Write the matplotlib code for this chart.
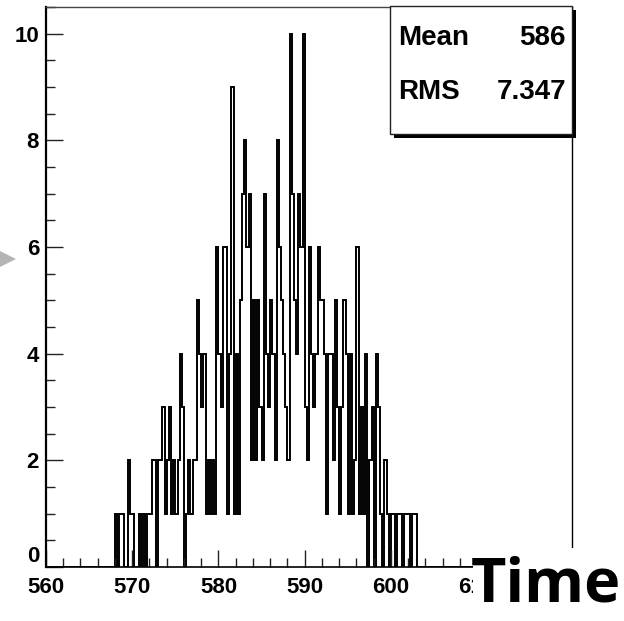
import numpy as np
import matplotlib
matplotlib.use("Agg")
import matplotlib.pyplot as plt
from matplotlib.patches import Rectangle, Polygon
from matplotlib.ticker import MultipleLocator

# ---------------- data ----------------
bin_width = 0.25
first_edge = 568.0
x_range = (560.0, 621.0)
y_max = 10.5
counts = [
    1, 0, 1, 1,   0, 0, 2, 1,   1, 0, 0, 1,   0, 1, 0, 1,      # 568-572
    1, 2, 2, 0,   2, 2, 3, 1,   2, 3, 1, 2,   1, 2, 4, 3,      # 572-576
    0, 1, 2, 1,   2, 2, 5, 4,   3, 4, 1, 2,   1, 2, 1, 6,      # 576-580
    4, 3, 6, 6,   1, 4, 9, 1,   4, 1, 5, 7,   8, 6, 7, 2,      # 580-584
    5, 2, 5, 3,   2, 7, 4, 3,   5, 4, 2, 8,   6, 5, 4, 3,      # 584-588
    2, 10, 7, 5,  4, 7, 6, 10,  3, 2, 6, 4,   3, 4, 6, 5,      # 588-592
    5, 4, 1, 4,   4, 2, 5, 3,   1, 3, 5, 4,   1, 4, 1, 2,      # 592-596
    6, 1, 3, 1,   4, 0, 2, 3,   0, 4, 3, 1,   0, 2, 1, 0,      # 596-600
    1, 1, 0, 1,   1, 0, 1, 1,   1, 0, 1, 1,   0,               # 600-603.25
]
stat_labels = ["Mean", "RMS"]
stat_values = ["586", "7.347"]
x_major = [560, 570, 580, 590, 600, 610]
y_major = [0, 2, 4, 6, 8, 10]
axis_title = "Time"

# ---------------- figure ----------------
W, H = 624, 621
fig = plt.figure(figsize=(W / 100, H / 100), dpi=100)
fig.patch.set_facecolor("white")


def fx(px):
    return px / W


def fy(py):
    return 1 - py / H


ax = fig.add_axes([fx(46), fy(567), fx(572) - fx(46), fy(7) - fy(567)])

edges = np.arange(x_range[0], x_range[1] + 1e-9, bin_width)
full = np.zeros(len(edges) - 1)
i0 = int(round((first_edge - x_range[0]) / bin_width))
full[i0:i0 + len(counts)] = counts
ax.stairs(full, edges, color="black", lw=1.4, baseline=0)

ax.set_xlim(*x_range)
ax.set_ylim(0, y_max)

ax.spines["left"].set_linewidth(1.6)
ax.spines["bottom"].set_linewidth(1.2)
ax.spines["top"].set_linewidth(1.0)
ax.spines["top"].set_color("#444444")
ax.spines["right"].set_linewidth(1.0)

ax.set_xticks(x_major)
ax.set_yticks(y_major)
ax.xaxis.set_minor_locator(MultipleLocator(2))
ax.yaxis.set_minor_locator(MultipleLocator(0.5))
ax.tick_params(which="major", direction="in", length=12, width=1.0, color="#222222")
ax.tick_params(which="minor", direction="in", length=6.5, width=1.0, color="#222222")
ax.tick_params(axis="y", which="major", pad=5)
ax.tick_params(axis="x", which="major", pad=7.5)
lab_font = dict(family=["Liberation Sans Narrow", "Liberation Sans"], weight="bold", size=16)
ax.set_xticklabels([str(v) for v in x_major], **lab_font)
ax.set_yticklabels([str(v) for v in y_major], **lab_font)
# ROOT places the "0" label slightly above the axis line
ax.get_yticklabels()[0].set_verticalalignment("bottom")
ax.get_yticklabels()[0].set_y(-0.12)

# ---------------- stats box ----------------
shadow = Rectangle((fx(394), fy(138)), fx(576) - fx(394), fy(10) - fy(138),
                   transform=fig.transFigure, facecolor="black", edgecolor="none", zorder=5)
box = Rectangle((fx(390), fy(134)), fx(572) - fx(390), fy(6) - fy(134),
                transform=fig.transFigure, facecolor="white", edgecolor="#222222",
                lw=1.0, zorder=6)
fig.add_artist(shadow)
fig.add_artist(box)
stat_font = dict(family=["Liberation Sans"], weight="bold", size=20)
for (lab, val, yc) in zip(stat_labels, stat_values, [38, 92]):
    fig.text(fx(398), fy(yc), lab, ha="left", va="center", zorder=7, **stat_font)
    fig.text(fx(566), fy(yc), val, ha="right", va="center", zorder=7, **stat_font)

# ---------------- overlay "Time" label with white backing ----------------
cover = Rectangle((fx(473), 0), 1 - fx(473), fy(548), transform=fig.transFigure,
                  facecolor="white", edgecolor="none", zorder=5)
fig.add_artist(cover)
fig.text(fx(546), fy(586), axis_title, ha="center", va="center", zorder=7,
         family=["Open Sans"], weight="bold", size=44)

# gray arrow at the left edge
tri = Polygon([[fx(0), fy(251)], [fx(16), fy(259)], [fx(0), fy(267)]], closed=True,
              transform=fig.transFigure, facecolor="#b4b4b4", edgecolor="none", zorder=5)
fig.add_artist(tri)

fig.savefig("out.png", dpi=100, facecolor="white")
